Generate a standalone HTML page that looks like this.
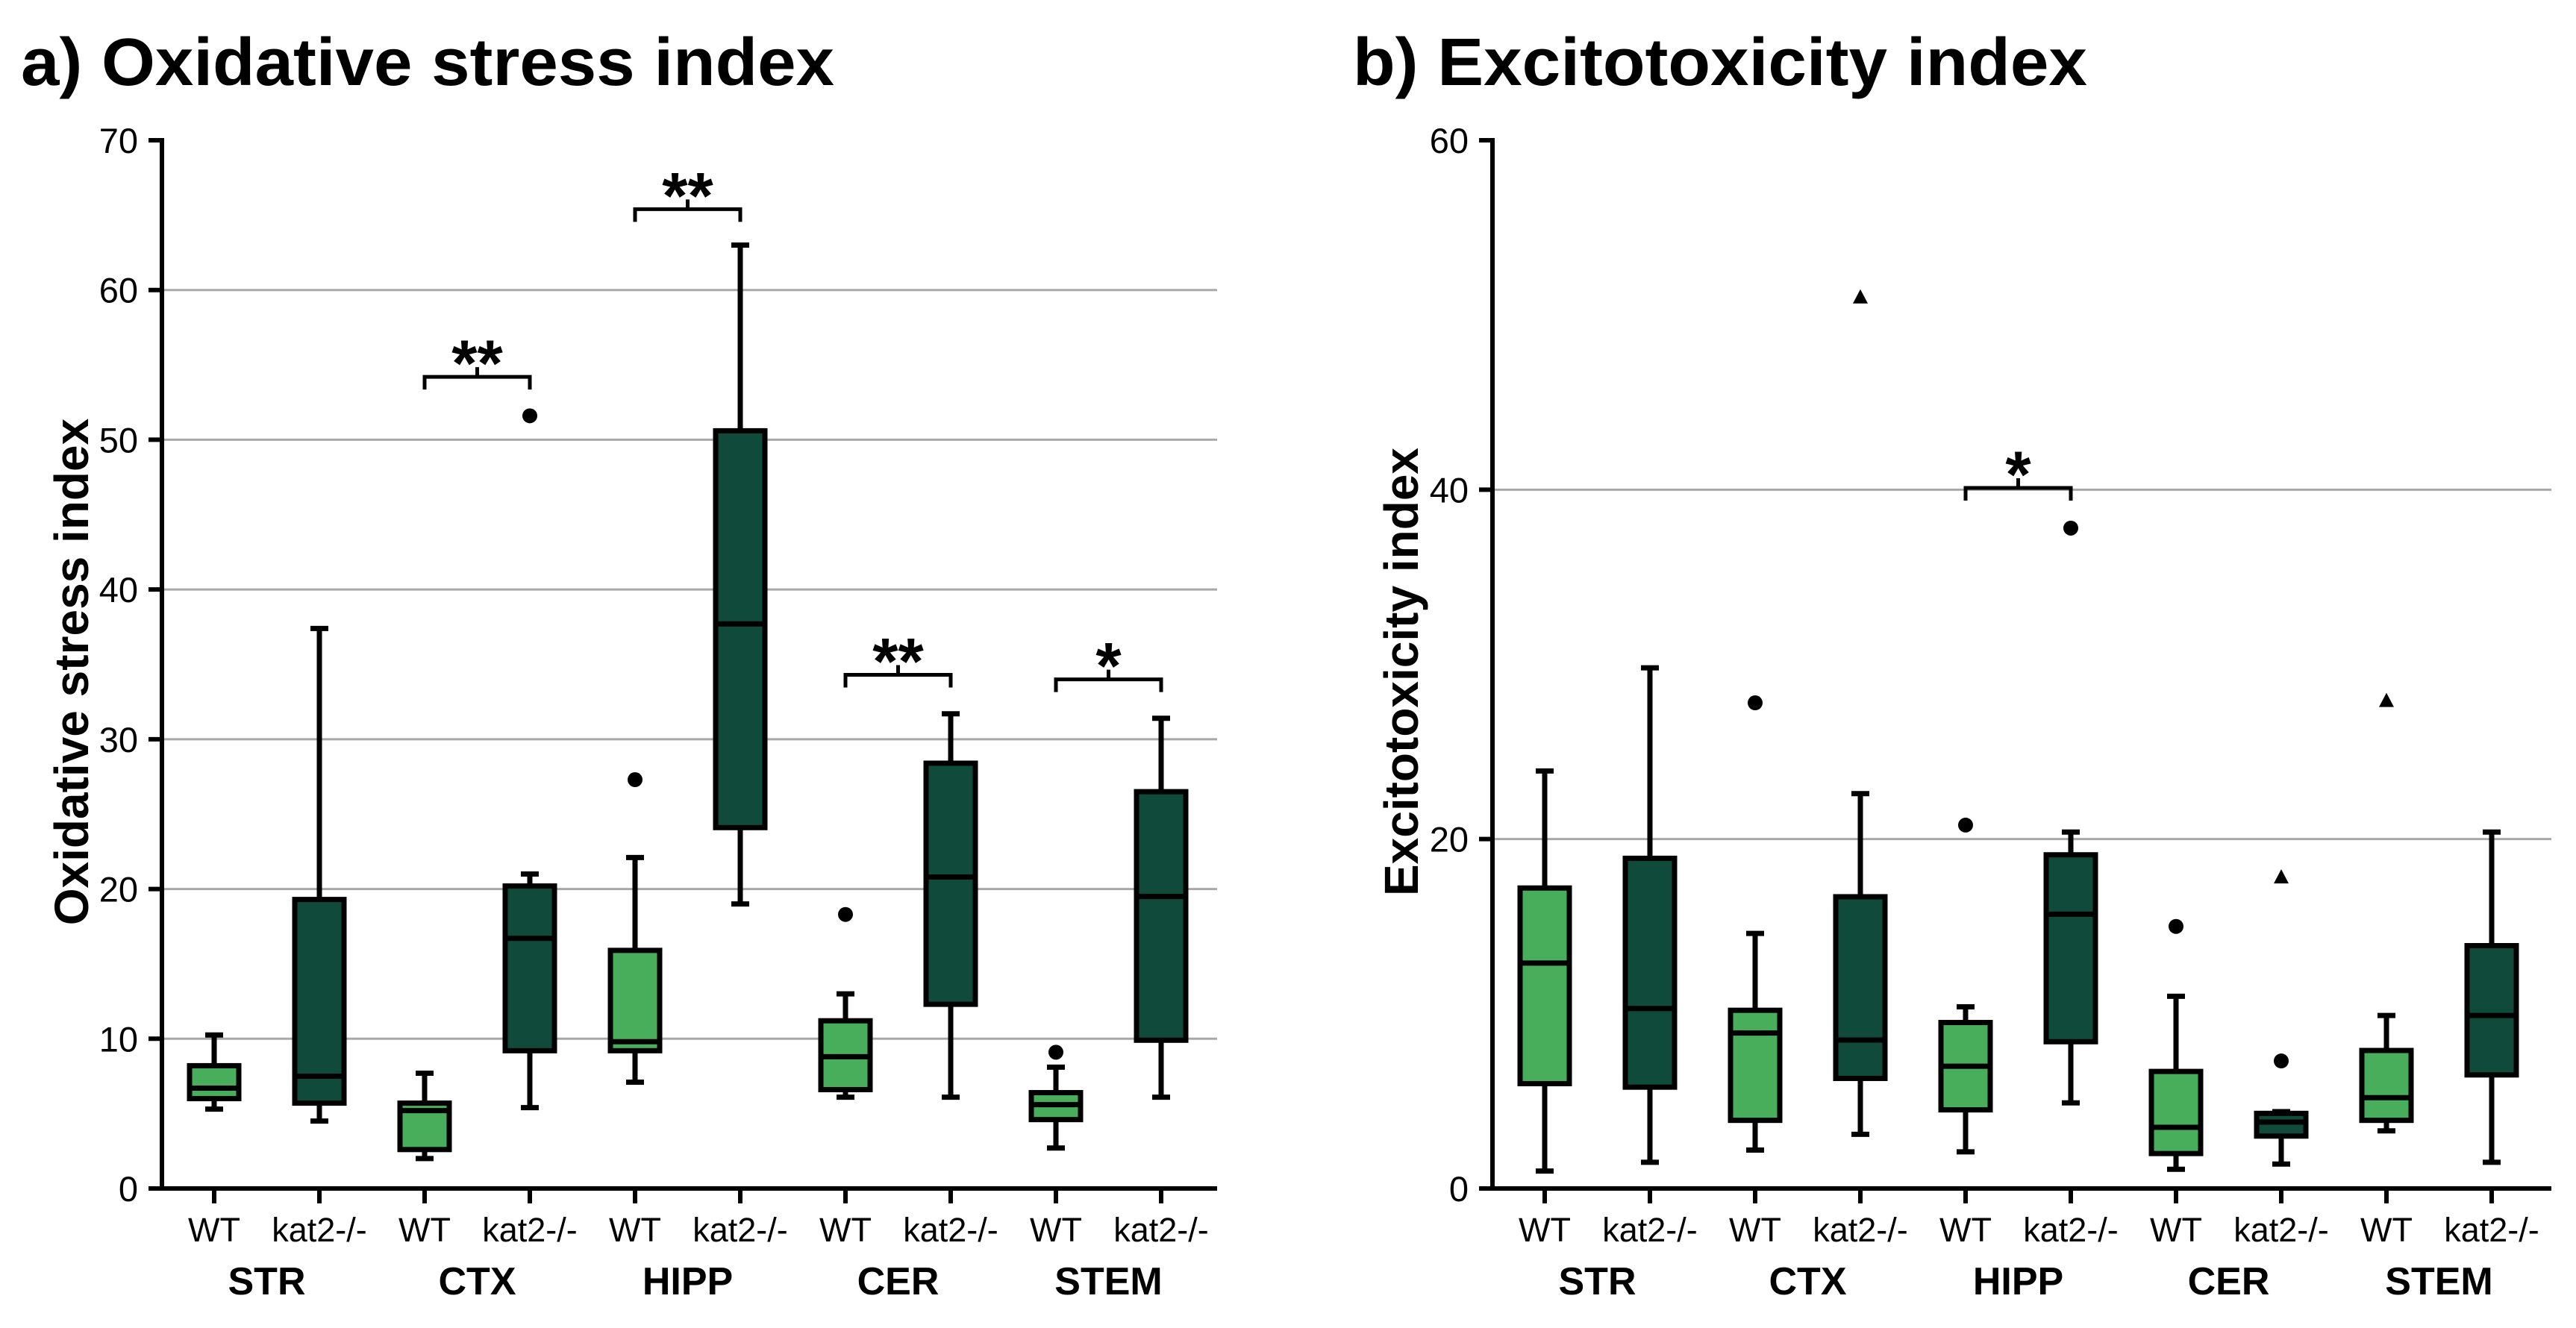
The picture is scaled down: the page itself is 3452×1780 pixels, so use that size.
<!DOCTYPE html>
<html><head><meta charset="utf-8"><style>
html,body{margin:0;padding:0;background:#fff}
svg{display:block}
text{font-family:"Liberation Sans",Arial,sans-serif;fill:#000}
</style></head><body>
<svg id="fig" width="3452" height="1780" viewBox="0 0 3452 1780" xmlns="http://www.w3.org/2000/svg">
<text x="28" y="114" font-size="90" font-weight="bold" textLength="1090" lengthAdjust="spacingAndGlyphs">a) Oxidative stress index</text>
<text x="1813" y="114" font-size="90" font-weight="bold" textLength="984" lengthAdjust="spacingAndGlyphs">b) Excitotoxicity index</text>
<g id="pa"></g>
<g id="pb"></g>
</svg>
<script>
const regions = ["STR","CTX","HIPP","CER","STEM"];
const groups = ["WT","kat2-/-"];
// Panel A: oxidative stress [low, q1, median, q3, high] per box (WT, kat2 alternating)
const oxLow    = [5.3, 4.5, 2.0, 5.4, 7.1, 19.0, 6.1, 6.1, 2.7, 6.1];
const oxQ1     = [6.0, 5.7, 2.6, 9.2, 9.2, 24.1, 6.6, 12.3, 4.6, 9.9];
const oxMedian = [6.7, 7.5, 5.2, 16.7, 9.8, 37.7, 8.8, 20.8, 5.6, 19.5];
const oxQ3     = [8.2, 19.3, 5.7, 20.2, 15.9, 50.6, 11.2, 28.4, 6.4, 26.5];
const oxHigh   = [10.25, 37.4, 7.7, 21.0, 22.1, 63.0, 13.0, 31.7, 8.1, 31.4];
const oxOutIdx = [3, 4, 6, 8];
const oxOutVal = [51.6, 27.3, 18.3, 9.1];
const oxOutShape = ["circle","circle","circle","circle"];
const oxSigRegion = [1, 2, 3, 4];
const oxSigY = [54.2, 65.4, 34.3, 34.0];
const oxSigLabel = ["**","**","**","*"];
const oxTicks = [0,10,20,30,40,50,60,70];
// Panel B: excitotoxicity
const exLow    = [1.0, 1.5, 2.2, 3.1, 2.1, 4.9, 1.1, 1.4, 3.3, 1.5];
const exQ1     = [6.0, 5.8, 3.9, 6.3, 4.5, 8.4, 2.0, 3.0, 3.9, 6.5];
const exMedian = [12.9, 10.3, 8.9, 8.5, 7.0, 15.7, 3.5, 3.8, 5.2, 9.9];
const exQ3     = [17.2, 18.9, 10.2, 16.7, 9.5, 19.1, 6.7, 4.3, 7.9, 13.9];
const exHigh   = [23.9, 29.8, 14.6, 22.6, 10.4, 20.4, 11.0, 4.4, 9.9, 20.4];
const exOutIdx = [2, 3, 4, 5, 6, 7, 7, 8];
const exOutVal = [27.8, 51.0, 20.8, 37.8, 15.0, 7.3, 17.8, 27.9];
const exOutShape = ["circle","triangle","circle","circle","circle","circle","triangle","triangle"];
const exSigRegion = [2];
const exSigY = [40.1];
const exSigLabel = ["*"];
const exTicks = [0,20,40,60];

const NS="http://www.w3.org/2000/svg";
function mk(parent, tag, attrs){const e=document.createElementNS(NS,tag);for(const k in attrs)e.setAttribute(k,attrs[k]);parent.appendChild(e);return e;}

function drawPanel(g, cfg){
  const ax=cfg.axisX, right=cfg.right, y0=1593, ytop=188;
  const y=v=>y0-(v/cfg.max)*(y0-ytop);
  const x=i=>ax+70+141*i;
  cfg.ticks.forEach(t=>{
    if(t>0 && t<cfg.max){const l=mk(g,'line',{x1:ax,x2:right,y1:y(t),y2:y(t),stroke:'#a8a8a8','stroke-width':3});
      
      }
  });
  cfg.ticks.forEach(t=>{
    const tk=mk(g,'line',{x1:ax-18,x2:ax,y1:y(t),y2:y(t),stroke:'#000','stroke-width':6});
    
    
    const tx=mk(g,'text',{x:ax-32,y:y(t)+17,'font-size':47,'text-anchor':'end'});
    tx.textContent=t;
    
    
  });
  const yt=mk(g,'text',{x:0,y:0,'font-size':64,'font-weight':'bold','text-anchor':'middle',transform:`translate(${cfg.titleX},${(y0+ytop)/2+10}) rotate(-90)`});
  yt.textContent=cfg.title;
  
  
  const bw=66, cw=24;
  for(let i=0;i<10;i++){
    const cx=x(i), col=i%2===0?'#49ae5b':'#0f4a3b';
    const bg=mk(g,'g',{});
    
    
    mk(bg,'line',{x1:cx,x2:cx,y1:y(cfg.high[i]),y2:y(cfg.q3[i]),stroke:'#000','stroke-width':7});
    mk(bg,'line',{x1:cx,x2:cx,y1:y(cfg.q1[i]),y2:y(cfg.low[i]),stroke:'#000','stroke-width':7});
    mk(bg,'line',{x1:cx-cw/2,x2:cx+cw/2,y1:y(cfg.high[i]),y2:y(cfg.high[i]),stroke:'#000','stroke-width':7});
    mk(bg,'line',{x1:cx-cw/2,x2:cx+cw/2,y1:y(cfg.low[i]),y2:y(cfg.low[i]),stroke:'#000','stroke-width':7});
    mk(bg,'rect',{x:cx-bw/2,y:y(cfg.q3[i]),width:bw,height:Math.max(1,y(cfg.q1[i])-y(cfg.q3[i])),fill:col,stroke:'#000','stroke-width':7});
    mk(bg,'line',{x1:cx-bw/2,x2:cx+bw/2,y1:y(cfg.median[i]),y2:y(cfg.median[i]),stroke:'#000','stroke-width':7});
  }
  cfg.outIdx.forEach((idx,k)=>{
    const cx=x(idx), cy=y(cfg.outVal[k]);
    let m;
    if(cfg.outShape[k]==='circle') m=mk(g,'circle',{cx:cx,cy:cy,r:10,fill:'#000'});
    else m=mk(g,'polygon',{points:`${cx},${cy-11} ${cx-10},${cy+8} ${cx+10},${cy+8}`,fill:'#000'});
    
    
  });
  cfg.sigRegion.forEach((r,k)=>{
    const x1=x(2*r), x2=x(2*r+1), by=y(cfg.sigY[k]);
    const p=mk(g,'path',{d:`M${x1},${by+17} V${by} H${x2} V${by+17} M${(x1+x2)/2},${by} V${by-13}`,fill:'none',stroke:'#000','stroke-width':5});
    
    
    const s=mk(g,'text',{x:(x1+x2)/2,y:by+12,'font-size':88,'font-weight':'bold','text-anchor':'middle'});
    s.textContent=cfg.sigLabel[k];
    
    
  });
  const axl=mk(g,'path',{d:`M${ax},${ytop-3} V${y0} H${right}`,fill:'none',stroke:'#000','stroke-width':6});
  
  
  for(let i=0;i<10;i++){
    const tk=mk(g,'line',{x1:x(i),x2:x(i),y1:y0,y2:y0+20,stroke:'#000','stroke-width':6});
    
    
    const t=mk(g,'text',{x:x(i),y:1664,'font-size':45,'text-anchor':'middle'});
    t.textContent=groups[i%2];
    
    
  }
  regions.forEach((r,j)=>{
    const t=mk(g,'text',{x:(x(2*j)+x(2*j+1))/2,y:1735,'font-size':52,'font-weight':'bold','text-anchor':'middle'});
    t.textContent=r;
    
    
  });
}
drawPanel(document.getElementById('pa'),{axisX:217,right:1631,max:70,ticks:oxTicks,title:'Oxidative stress index',titleX:118,
  low:oxLow,q1:oxQ1,median:oxMedian,q3:oxQ3,high:oxHigh,outIdx:oxOutIdx,outVal:oxOutVal,outShape:oxOutShape,
  sigRegion:oxSigRegion,sigY:oxSigY,sigLabel:oxSigLabel});
drawPanel(document.getElementById('pb'),{axisX:2000,right:3419,max:60,ticks:exTicks,title:'Excitotoxicity index',titleX:1900,
  low:exLow,q1:exQ1,median:exMedian,q3:exQ3,high:exHigh,outIdx:exOutIdx,outVal:exOutVal,outShape:exOutShape,
  sigRegion:exSigRegion,sigY:exSigY,sigLabel:exSigLabel});
</script>
</body></html>
